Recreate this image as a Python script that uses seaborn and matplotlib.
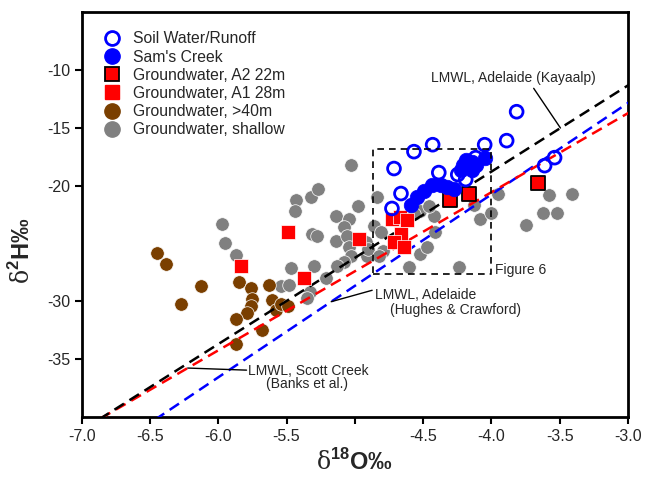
import numpy as np
import pandas as pd
import matplotlib
matplotlib.use("Agg")
import matplotlib.pyplot as plt
import seaborn as sns
from matplotlib.lines import Line2D
from matplotlib.patches import Rectangle

# ---------------- data ----------------
soil_d18O = [-3.815, -3.888, -4.049, -4.43, -4.567, -4.713, -4.385, -4.246, -4.188,
             -4.115, -4.662, -4.728, -3.61, -3.537]
soil_d2H = [-13.62, -16.12, -16.47, -16.47, -17.07, -18.53, -18.88, -19.05, -19.48,
            -17.59, -20.69, -21.98, -18.28, -17.59]

sams_d18O = [-4.589, -4.545, -4.494, -4.436, -4.37, -4.326, -4.275, -4.224, -4.21,
             -4.188, -4.144, -4.115, -4.144, -4.049]
sams_d2H = [-21.64, -21.03, -20.43, -19.91, -19.91, -20.09, -20.26, -18.62, -18.19,
            -17.76, -17.93, -18.19, -18.62, -17.59]

a2_d18O = [-4.30, -4.165, -3.655]
a2_d2H = [-21.29, -20.69, -19.74]

a1_d18O = [-5.49, -5.83, -5.37, -4.97, -4.73, -4.67, -4.62, -4.66, -4.71, -4.64]
a1_d2H = [-24.05, -26.98, -28.02, -24.66, -22.93, -22.76, -23.02, -24.22, -24.91, -25.34]

deep_d18O = [-6.45, -6.385, -6.13, -6.27, -5.85, -5.76, -5.625, -5.75, -5.76, -5.79,
             -5.87, -5.61, -5.58, -5.54, -5.49, -5.68, -5.87]
deep_d2H = [-25.86, -26.81, -28.71, -30.26, -28.36, -28.88, -28.62, -29.83, -30.43,
            -31.03, -31.55, -29.91, -30.78, -30.26, -30.43, -32.5, -33.71]

shallow_d18O = [-5.97, -5.95, -5.87, -5.43, -5.44, -5.32, -5.27, -5.31, -5.28, -5.14,
                -5.14, -5.47, -5.30, -5.54, -5.48, -5.21, -5.33, -5.35, -5.03, -4.98,
                -5.04, -5.08, -5.06, -5.04, -5.03, -5.08, -4.86, -4.84, -4.81, -4.79,
                -4.60, -4.52, -4.47, -4.41, -4.42, -4.52, -4.31, -4.24, -4.08, -4.13,
                -4.00, -4.91, -4.92, -3.95, -3.58, -3.41, -3.62, -3.52, -3.75, -5.13,
                -4.90, -4.82, -4.57, -4.46]
shallow_d2H = [-23.36, -25.0, -26.03, -21.29, -22.24, -21.03, -20.34, -24.22, -24.40, -22.67,
               -24.83, -27.16, -26.98, -28.71, -28.62, -28.02, -29.22, -29.74, -18.19, -21.81,
               -22.93, -23.62, -24.40, -25.34, -26.12, -26.64, -23.53, -20.95, -24.05, -25.69,
               -27.07, -25.95, -25.34, -24.05, -22.67, -22.24, -20.09, -27.07, -22.93, -21.64,
               -22.33, -26.12, -24.91, -20.69, -20.86, -20.69, -22.41, -22.41, -23.45, -26.98,
               -25.52, -26.12, -22.5, -21.81]

# LMWL equations: slope, intercept
lmwl_kayaalp = (7.45, 11.0)
lmwl_hughes = (7.90, 10.83)
lmwl_banks = (6.83, 6.74)

x_ticks = [-7.0, -6.5, -6.0, -5.5, -5.0, -4.5, -4.0, -3.5, -3.0]
x_ticklabels = ["-7.0", "-6.5", "-6.0", "-5.5", "", "-4.5", "-4.0", "-3.5", "-3.0"]
y_ticks = [-10, -15, -20, -30, -35]
y_ticklabels = ["-10", "-15", "-20", "-30", "-35"]

labels = ["Soil Water/Runoff", "Sam's Creek", "Groundwater, A2 22m",
          "Groundwater, A1 28m", "Groundwater, >40m", "Groundwater, shallow"]

# ---------------- style ----------------
sns.set_style("ticks")
plt.rcParams["font.family"] = ["Liberation Sans", "DejaVu Sans"]
plt.rcParams["mathtext.fontset"] = "custom"
plt.rcParams["mathtext.rm"] = "DejaVu Serif"
plt.rcParams["mathtext.bf"] = "Liberation Sans:bold"

BLUE = "#0000FF"
RED = "#FF0000"
BROWN = "#7A3F00"
GREY = "#808080"

fig = plt.figure(figsize=(6.46, 4.78), dpi=100)
ax = fig.add_axes([0.1265, 0.1276, 0.8455, 0.8474])

def df(x, y):
    return pd.DataFrame({"d18O": x, "d2H": y})

# grey shallow
sns.scatterplot(data=df(shallow_d18O, shallow_d2H), x="d18O", y="d2H", ax=ax,
                color=GREY, s=95, edgecolor="white", linewidth=0.5, zorder=2, legend=False)
# brown deep
sns.scatterplot(data=df(deep_d18O, deep_d2H), x="d18O", y="d2H", ax=ax,
                color=BROWN, s=95, edgecolor="white", linewidth=0.5, zorder=2, legend=False)

# LMWL lines
xl = np.array([-7.2, -2.8])
for (m, b), col in [(lmwl_hughes, BLUE), (lmwl_banks, RED), (lmwl_kayaalp, "black")]:
    ax.plot(xl, m * xl + b, color=col, lw=1.8, dashes=(4.5, 2.6), zorder=3)

# A1 squares
sns.scatterplot(data=df(a1_d18O, a1_d2H), x="d18O", y="d2H", ax=ax, marker="s",
                color=RED, s=110, edgecolor="white", linewidth=0.5, zorder=4, legend=False)
# A2 squares with black edge
sns.scatterplot(data=df(a2_d18O, a2_d2H), x="d18O", y="d2H", ax=ax, marker="s",
                color=RED, s=95, edgecolor="black", linewidth=1.3, zorder=4, legend=False)
# Sam's creek filled
sns.scatterplot(data=df(sams_d18O, sams_d2H), x="d18O", y="d2H", ax=ax,
                color=BLUE, s=110, edgecolor=BLUE, linewidth=0.5, zorder=5, legend=False)
# Soil water open circles
before = len(ax.collections)
sns.scatterplot(data=df(soil_d18O, soil_d2H), x="d18O", y="d2H", ax=ax,
                color=BLUE, s=85, linewidth=2.0, zorder=6, legend=False)
coll = ax.collections[before]
coll.set_facecolor("none")
coll.set_edgecolor(BLUE)
coll.set_linewidth(2.0)

# dashed box (Figure 6)
ax.add_patch(Rectangle((-4.87, -27.6), 0.87, 10.78, fill=False, edgecolor="black",
                       lw=1.2, linestyle=(0, (4, 3)), zorder=7))
ax.text(-3.97, -27.3, "Figure 6", fontsize=10, ha="left", va="center")

# annotations
arrow = dict(arrowstyle="-", color="black", lw=1.0, shrinkA=0, shrinkB=0)
xk = -3.494
ax.annotate("", xy=(xk, lmwl_kayaalp[0] * xk + lmwl_kayaalp[1]), xytext=(-3.69, -11.6),
            arrowprops=arrow)
ax.text(-4.443, -10.69, "LMWL, Adelaide (Kayaalp)", fontsize=10, ha="left", va="center")

xh = -5.173
ax.annotate("", xy=(xh, lmwl_hughes[0] * xh + lmwl_hughes[1]), xytext=(-4.873, -29.05),
            arrowprops=arrow)
ax.text(-4.852, -29.48, "LMWL, Adelaide", fontsize=10, ha="left", va="center")
ax.text(-4.742, -30.78, "(Hughes & Crawford)", fontsize=10, ha="left", va="center")

xb = -6.224
ax.annotate("", xy=(xb, lmwl_banks[0] * xb + lmwl_banks[1]), xytext=(-5.793, -35.95),
            arrowprops=arrow)
ax.text(-5.784, -36.0, "LMWL, Scott Creek", fontsize=10, ha="left", va="center")
ax.text(-5.650, -37.16, "(Banks et al.)", fontsize=10, ha="left", va="center")

# axes
ax.set_xlim(-7.0, -3.0)
ax.set_ylim(-40, -5)
ax.set_xticks(x_ticks)
ax.set_xticklabels(x_ticklabels)
ax.set_yticks(y_ticks)
ax.set_yticklabels(y_ticklabels)
ax.tick_params(direction="out", length=5, width=1.5, labelsize=11.5, color="black")
for sp in ax.spines.values():
    sp.set_visible(True)
    sp.set_linewidth(2.0)
    sp.set_color("black")

ax.set_xlabel(r"$\mathrm{\delta}^{\mathbf{18}}$O‰", fontsize=17, fontweight="bold")
ax.set_ylabel(r"$\mathrm{\delta}^{\mathbf{2}}$H‰", fontsize=17, fontweight="bold")
ax.xaxis.set_label_coords(0.5, -0.078)
ax.yaxis.set_label_coords(-0.085, 0.41)

# legend
handles = [
    Line2D([], [], ls="", marker="o", ms=10, mfc="none", mec=BLUE, mew=2.0),
    Line2D([], [], ls="", marker="o", ms=11, mfc=BLUE, mec=BLUE),
    Line2D([], [], ls="", marker="s", ms=10, mfc=RED, mec="black", mew=1.3),
    Line2D([], [], ls="", marker="s", ms=10, mfc=RED, mec=RED),
    Line2D([], [], ls="", marker="o", ms=11, mfc=BROWN, mec=BROWN),
    Line2D([], [], ls="", marker="o", ms=11, mfc=GREY, mec=GREY),
]
ax.legend(handles, labels, loc="upper left", bbox_to_anchor=(0.017, 0.975), frameon=False,
          fontsize=11.3, labelspacing=0.2, handletextpad=0.55, handlelength=1.5,
          borderaxespad=0.2)

fig.savefig("out.png", dpi=100)
